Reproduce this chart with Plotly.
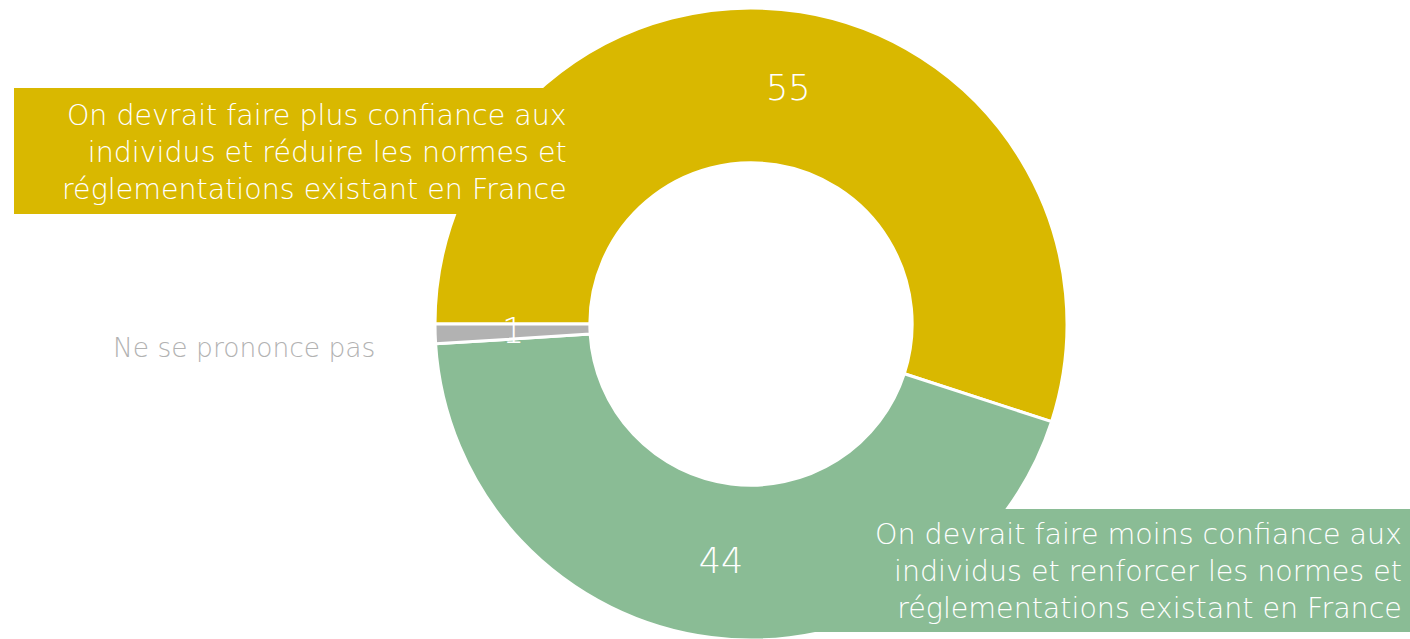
import math
import plotly.graph_objects as go

# ---- data ----
labels = [
    "On devrait faire plus confiance aux individus et réduire les normes et réglementations existant en France",
    "On devrait faire moins confiance aux individus et renforcer les normes et réglementations existant en France",
    "Ne se prononce pas",
]
values = [55, 44, 1]
colors = ["#D9B800", "#8ABC95", "#B2B2B2"]

label_yes = "On devrait faire plus confiance aux<br>individus et réduire les normes et<br>réglementations existant en France"
label_no = "On devrait faire moins confiance aux<br>individus et renforcer les normes et<br>réglementations existant en France"
label_nsp = "Ne se prononce pas"

W, H = 1410, 660
FONT = "DejaVu Sans"
WEIGHT = 300
ROTATION = -90
HOLE = 0.51
DOM_X = (435, 1067)   # pixel extent of the donut
DOM_Y = (8, 640)


def px(x):
    return x / W


def py(y):
    return 1 - y / H


fig = go.Figure(
    go.Pie(
        labels=labels,
        values=values,
        marker=dict(colors=colors, line=dict(color="white", width=3)),
        hole=HOLE,
        sort=False,
        direction="clockwise",
        rotation=ROTATION,
        texttemplate=["%{value}", "%{value}", ""],
        textposition="inside",
        insidetextorientation="horizontal",
        insidetextfont=dict(color="white", size=35, family=FONT, weight=WEIGHT),
        domain=dict(x=[px(DOM_X[0]), px(DOM_X[1])], y=[py(DOM_Y[1]), py(DOM_Y[0])]),
        showlegend=False,
        hoverinfo="label+value",
    )
)

# value label of the thin "Ne se prononce pas" slice, at its mid-angle / mid-ring
total = sum(values)
mid_frac = (values[0] + values[1] + values[2] / 2) / total
ang = math.radians(ROTATION + 360 * mid_frac)
cx = (DOM_X[0] + DOM_X[1]) / 2
cy = (DOM_Y[0] + DOM_Y[1]) / 2
R = (DOM_Y[1] - DOM_Y[0]) / 2
rm = R * (1 + HOLE) / 2
fig.add_annotation(text=str(values[2]), xref="paper", yref="paper",
                   x=px(cx + rm * math.sin(ang)), y=py(cy - rm * math.cos(ang)),
                   xanchor="center", yanchor="middle", showarrow=False,
                   font=dict(family=FONT, size=35, color="white", weight=WEIGHT))

# callout boxes (same colour as their slice, drawn over the ring edge)
fig.add_shape(type="rect", xref="paper", yref="paper",
              x0=px(14), x1=px(585), y0=py(214), y1=py(88),
              fillcolor=colors[0], line=dict(width=0), layer="above")
fig.add_shape(type="rect", xref="paper", yref="paper",
              x0=px(800), x1=px(1410), y0=py(632), y1=py(509),
              fillcolor=colors[1], line=dict(width=0), layer="above")

fig.add_annotation(text=label_yes, xref="paper", yref="paper",
                   x=px(569), y=py(152), xanchor="right", yanchor="middle",
                   align="right", showarrow=False,
                   font=dict(family=FONT, size=28.5, color="white", weight=WEIGHT))
fig.add_annotation(text=label_no, xref="paper", yref="paper",
                   x=px(1404), y=py(571), xanchor="right", yanchor="middle",
                   align="right", showarrow=False,
                   font=dict(family=FONT, size=28.5, color="white", weight=WEIGHT))
fig.add_annotation(text=label_nsp, xref="paper", yref="paper",
                   x=px(377), y=py(348), xanchor="right", yanchor="middle",
                   align="right", showarrow=False,
                   font=dict(family=FONT, size=26.5, color="#B2B2B2", weight=WEIGHT))

fig.update_layout(
    width=W, height=H,
    margin=dict(l=0, r=0, t=0, b=0),
    paper_bgcolor="white", plot_bgcolor="white",
)

fig.write_html("out.html",
               config={"displayModeBar": False},
               post_script="document.body.style.margin='0';document.body.style.overflow='hidden';")
